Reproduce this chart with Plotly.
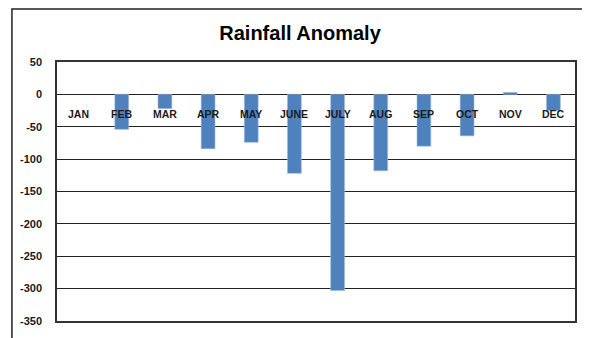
import plotly.graph_objects as go

months = ["JAN", "FEB", "MAR", "APR", "MAY", "JUNE", "JULY", "AUG", "SEP", "OCT", "NOV", "DEC"]
anomaly = [None, -54, -22, -84, -74, -122, -303, -118, -80, -64, 3, -25]
y_ticks = [50, 0, -50, -100, -150, -200, -250, -300, -350]
y_tick_labels = ["50", "0", "-50", "-100", "-150", "-200", "-250", "-300", "-350"]

fig = go.Figure()
fig.add_trace(go.Bar(
    x=months, y=anomaly,
    marker=dict(color="#4F81BD", line=dict(color="#9DB8DC", width=0.6)),
    width=0.32,
))

for m in months:
    fig.add_annotation(x=m, y=0, xref="x", yref="y", text=m, showarrow=False,
                       yanchor="top", yshift=-12,
                       font=dict(family="Liberation Sans", size=10.5, color="#1a1a1a", weight="bold"))

fig.update_layout(
    width=590, height=338,
    margin=dict(l=49, r=23, t=54, b=25),
    paper_bgcolor="white", plot_bgcolor="white",
    showlegend=False,
    title=dict(text="<b>Rainfall Anomaly</b>", x=0.495, xanchor="center", y=0.926, yanchor="middle",
               font=dict(family="Liberation Sans", size=20, color="black")),
    xaxis=dict(showticklabels=False, showgrid=False, zeroline=False, ticks="",
               showline=True, linecolor="#333", linewidth=1.5, mirror=True, range=[-0.5, 11.5]),
    yaxis=dict(range=[-350, 50], tickvals=y_ticks, ticktext=y_tick_labels,
               showgrid=True, gridcolor="#222", gridwidth=1.3,
               zeroline=True, zerolinecolor="#222", zerolinewidth=1.3,
               showline=True, linecolor="#333", linewidth=1.5, mirror=True, ticks="",
               tickfont=dict(family="Liberation Sans", size=11, color="#1a1a1a", weight="bold"),
               ticklabelstandoff=11),
    bargap=0.68,
)

fig.add_shape(type="rect", xref="paper", yref="paper",
              x0=-0.087, x1=1.1, y0=-0.2, y1=1.205,
              line=dict(color="#222", width=1.5), layer="below")

fig.write_html("out.html")
